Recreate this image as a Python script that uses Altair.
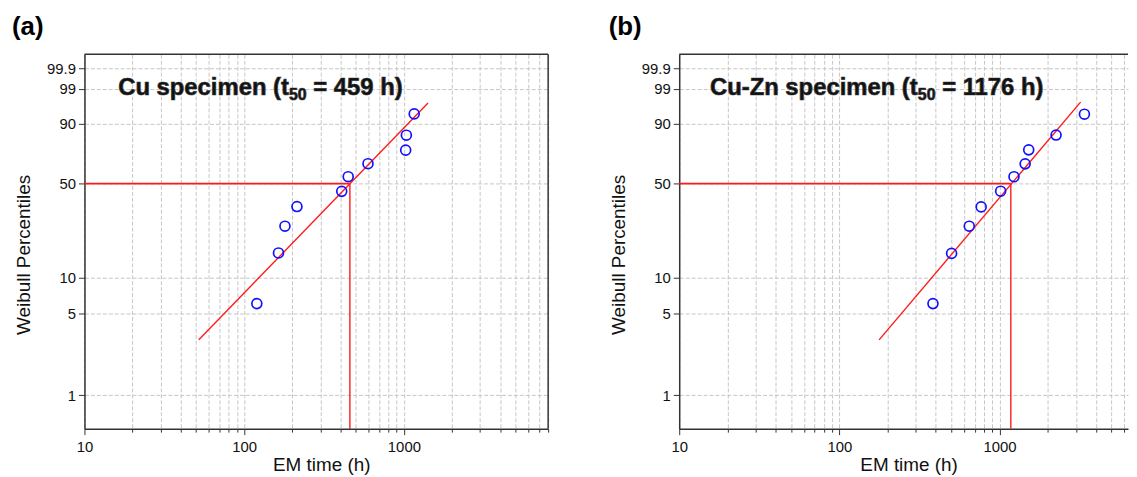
import math
import altair as alt
import pandas as pd

# ---------------- data ----------------
# (a) Cu specimen
cu_time = [120, 164, 180, 214, 408, 448, 596, 1026, 1036, 1160]
cu_pct = [6.1, 15.9, 25.6, 35.5, 44.8, 54.9, 64.4, 74.2, 83.9, 93.9]
cu_fit_time = [52, 1416]
cu_fit_pct = [3.0, 96.9]
cu_t50 = 459
cu_label = ["Cu specimen (t", "50", " = 459 h)"]

# (b) Cu-Zn specimen
cuzn_time = [384, 502, 647, 768, 1016, 1231, 1445, 1521, 2254, 3388]
cuzn_pct = [6.1, 15.8, 25.6, 35.3, 44.9, 54.9, 64.3, 74.4, 84.0, 93.8]
cuzn_fit_time = [177, 3206]
cuzn_fit_pct = [3.0, 97.1]
cuzn_t50 = 1176
cuzn_label = ["Cu-Zn specimen (t", "50", " = 1176 h)"]

x_ticks = [10, 20, 30, 40, 50, 60, 70, 80, 90,
           100, 200, 300, 400, 500, 600, 700, 800, 900,
           1000, 2000, 3000, 4000, 5000, 6000, 7000, 8000]
x_major = [10, 100, 1000]
y_tick_pct = [1, 5, 10, 50, 90, 99, 99.9]
y_range_pct = [0.514, 99.99]
x_min = 10

# ---------------- styling ----------------
FONT = "Liberation Sans"
H = 377
RED = "#ff1a1a"
BLUE = "#1010ff"
DARK = "#333333"

ARIAL_BOLD = {'C': 722, 'u': 611, ' ': 278, 's': 556, 'p': 611, 'e': 556, 'c': 556,
              'i': 278, 'm': 889, 'n': 611, '(': 333, 't': 333, '-': 333, 'Z': 611,
              '=': 584, 'h': 611, ')': 333}
for d in "0123456789":
    ARIAL_BOLD[d] = 556


def text_w(s, size):
    return sum(ARIAL_BOLD[c] for c in s) / 1000.0 * size


def weib(p):
    return math.log(-math.log(1 - p / 100.0))


WEXPR = "log(-log(1 - datum.p / 100))"


def one_row():
    return alt.Chart(pd.DataFrame({"k": [0]}))


def panel(times, pcts, fit_t, fit_p, t50, label, letter, width, x_max,
          title_x0, letter_x, right_border):
    xscale = alt.Scale(type="log", domain=[x_min, x_max], nice=False)
    yscale = alt.Scale(domain=[weib(y_range_pct[0]), weib(y_range_pct[1])],
                       nice=False, zero=False)
    major_test = " || ".join("datum.value == %d" % v for v in x_major)
    xaxis = alt.Axis(
        values=[t for t in x_ticks if t <= x_max],
        labelExpr="(%s) ? format(datum.value, 'd') : ''" % major_test,
        tickSize=alt.condition(major_test, alt.value(6), alt.value(3.5)),
        grid=True, gridDash=[4, 2], gridColor="#c6c6c6", gridWidth=1,
        domainColor=DARK, domainWidth=1.5, tickColor=DARK, tickWidth=1,
        labelFontSize=15, labelColor="#111", labelPadding=5, labelFlush=False,
        titleFontSize=19, titleFontWeight="normal", titleColor="#111",
        titlePadding=1, titleX=width / 2 + 5,
    )
    yaxis = alt.Axis(
        values=[weib(p) for p in y_tick_pct],
        labelExpr="round(1000 * (1 - exp(-exp(datum.value)))) / 10",
        grid=True, gridDash=[4, 2], gridColor="#c6c6c6", gridWidth=1,
        domainColor=DARK, domainWidth=1.5, tickColor=DARK, tickWidth=1,
        tickSize=6, labelFontSize=15, labelColor="#111", labelPadding=3,
        titleFontSize=19, titleFontWeight="normal", titleColor="#111",
        titlePadding=13, titleY=H / 2 + 13,
    )
    X = lambda f: alt.X(f, type="quantitative", scale=xscale, axis=xaxis, title="EM time (h)")
    Y = lambda f: alt.Y(f, type="quantitative", scale=yscale, axis=yaxis, title="Weibull Percentiles")

    pts = alt.Chart(pd.DataFrame({"t": times, "p": pcts})).transform_calculate(
        w=WEXPR).mark_point(shape="circle", filled=False, size=100,
                            strokeWidth=1.7, color=BLUE, opacity=1).encode(
        x=X("t"), y=Y("w"))

    fit = alt.Chart(pd.DataFrame({"t": fit_t, "p": fit_p})).transform_calculate(
        w=WEXPR).mark_line(color=RED, strokeWidth=1.4).encode(x=X("t"), y=Y("w"))

    hline = alt.Chart(pd.DataFrame({"t0": [x_min], "t1": [t50], "p": [50]})).transform_calculate(
        w=WEXPR).mark_rule(color=RED, strokeWidth=1.6).encode(
        x=X("t0"), x2="t1", y=Y("w"))

    vline = alt.Chart(pd.DataFrame({"t": [t50], "p0": [y_range_pct[0]], "p1": [50]})).transform_calculate(
        w0="log(-log(1 - datum.p0 / 100))", w1="log(-log(1 - datum.p1 / 100))").mark_rule(
        color=RED, strokeWidth=1.4).encode(x=X("t"), y=Y("w0"), y2="w1")

    layers = [hline, vline, fit, pts]

    # frame (top and optionally right)
    layers.append(one_row().mark_rule(color=DARK, strokeWidth=1.5).encode(
        x=alt.value(0), x2=alt.value(width), y=alt.value(0)))
    if right_border:
        layers.append(one_row().mark_rule(color=DARK, strokeWidth=1.5).encode(
            x=alt.value(width), y=alt.value(0), y2=alt.value(H)))

    # annotation with subscript (SVG drops leading spaces, so offset explicitly)
    big, small = 24, 16
    base_y = 41
    x1 = title_x0
    x2 = x1 + text_w(label[0], big)
    x3 = x2 + text_w(label[1], small)
    seg3 = label[2]
    lead = len(seg3) - len(seg3.lstrip(" "))
    x3 += text_w(" " * lead, big)
    for seg, xx, sz, yy in [(label[0], x1, big, base_y), (label[1], x2, small, base_y + 4.5),
                            (seg3.lstrip(" "), x3, big, base_y)]:
        layers.append(one_row().mark_text(
            align="left", baseline="alphabetic", font=FONT, fontSize=sz,
            fontWeight="bold", color="#111", stroke="#333", strokeWidth=0.7).encode(
            x=alt.value(xx), y=alt.value(yy), text=alt.value(seg)))

    layers.append(one_row().mark_text(
        align="left", baseline="alphabetic", font=FONT, fontSize=26,
        fontWeight="bold", color="#000").encode(
        x=alt.value(letter_x), y=alt.value(-19), text=alt.value(letter)))

    return alt.layer(*layers).properties(width=width, height=H)


pa = panel(cu_time, cu_pct, cu_fit_time, cu_fit_pct, cu_t50, cu_label, "(a)",
           467, 8000, 34, -73, True)
pb = panel(cuzn_time, cuzn_pct, cuzn_fit_time, cuzn_fit_pct, cuzn_t50, cuzn_label, "(b)",
           452, 6340, 31, -71, False)

chart = alt.hconcat(pa, pb, spacing=60).properties(
    padding={"left": 4, "top": 5, "right": 0, "bottom": 0}
).configure(font=FONT).configure_view(strokeWidth=0).resolve_scale(x="independent", y="independent")

chart.save("out.html", embed_options={"renderer": "svg", "actions": False})
